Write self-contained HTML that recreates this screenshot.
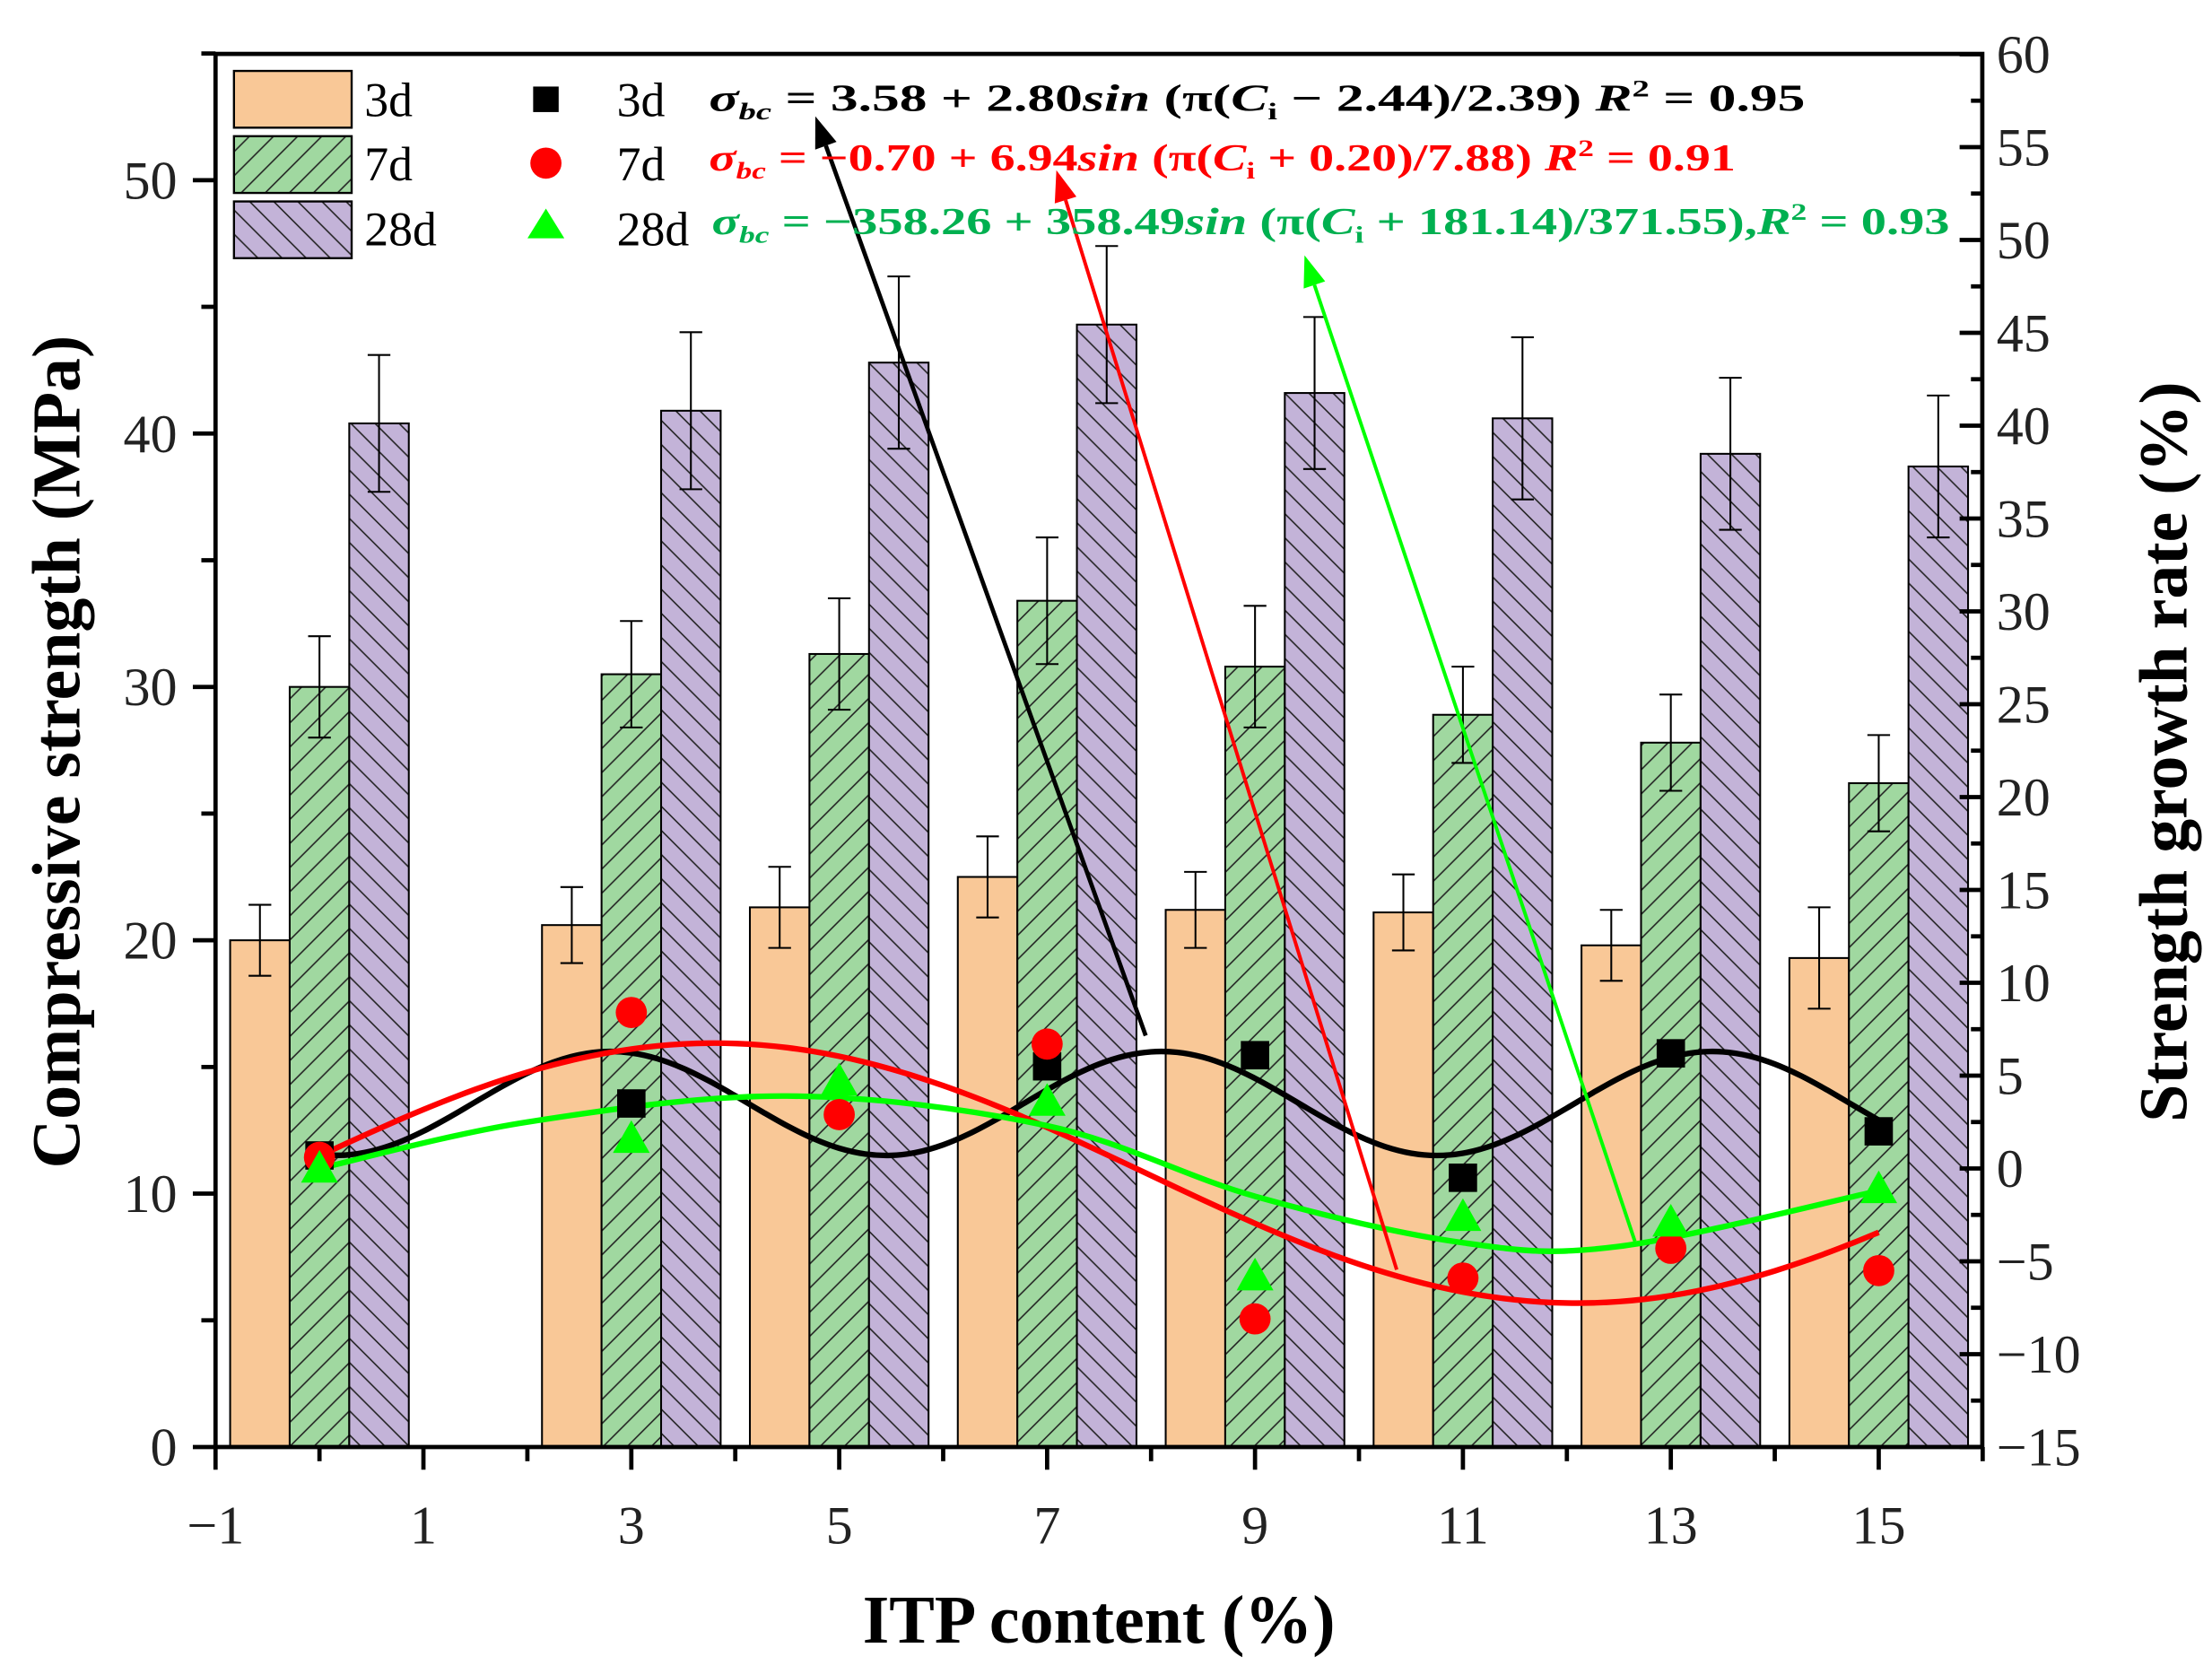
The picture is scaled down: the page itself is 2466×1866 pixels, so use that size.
<!DOCTYPE html>
<html><head><meta charset="utf-8">
<style>
html,body{margin:0;padding:0;background:#fff;}
svg{display:block;}
text{font-family:"Liberation Serif",serif;}
</style></head>
<body>
<svg id="s" width="2466" height="1866" viewBox="0 0 1560 1180" preserveAspectRatio="none" xmlns="http://www.w3.org/2000/svg">
<defs>
<pattern id="hg" patternUnits="userSpaceOnUse" width="17" height="17">
<rect width="17" height="17" fill="#a0d8a0"/>
<path d="M-2,19 L19,-2 M-4,4 L4,-4 M13,21 L21,13" stroke="#222" stroke-width="1"/>
</pattern>
<pattern id="hp" patternUnits="userSpaceOnUse" width="17" height="17">
<rect width="17" height="17" fill="#c3b3d8"/>
<path d="M-2,-2 L19,19 M-4,13 L4,21 M13,-4 L21,4" stroke="#222" stroke-width="1"/>
</pattern>
</defs>
<g id="g"></g>
</svg>
<script>
var g=document.getElementById('g');var h='';
function X(x){return 152+(x+1)*73.31;}
function YL(v){return 1020-v*17.86;}
function YR(v){return 1020-(v+15)*13.09;}
var xs=[0,3,5,7,9,11,13,15];
var d3=[20,20.6,21.3,22.5,21.2,21.1,19.8,19.3],e3=[1.4,1.5,1.6,1.6,1.5,1.5,1.4,2.0];
var d7=[30,30.5,31.3,33.4,30.8,28.9,27.8,26.2],e7=[2.0,2.1,2.2,2.5,2.4,1.9,1.9,1.9];
var d28=[40.4,40.9,42.8,44.3,41.6,40.6,39.2,38.7],e28=[2.7,3.1,3.4,3.1,3.0,3.2,3.0,2.8];
var bw=42;
xs.forEach(function(x,i){var c=X(x);
 var sets=[[d3,e3,'#f9c897',c-63],[d7,e7,'url(#hg)',c-21],[d28,e28,'url(#hp)',c+21]];
 sets.forEach(function(s){var v=s[0][i],e=s[1][i],l=s[3],y=YL(v);
  h+='<rect x="'+l+'" y="'+y+'" width="'+bw+'" height="'+(1020-y)+'" fill="'+s[2]+'" stroke="#000" stroke-width="1.3"/>';
  var m=l+bw/2;
  h+='<path d="M'+m+','+YL(v+e)+'V'+YL(v-e)+'M'+(m-8)+','+YL(v+e)+'h16M'+(m-8)+','+YL(v-e)+'h16" stroke="#000" stroke-width="1.3" fill="none"/>';
 });
});
function spline(pts,col){var p=pts.map(function(q){return [X(q[0]),YR(q[1])];});
 var s='M'+p[0][0]+','+p[0][1];
 for(var i=0;i<p.length-1;i++){var p0=p[i-1]||p[i],p1=p[i],p2=p[i+1],p3=p[i+2]||p2;
  s+='C'+(p1[0]+(p2[0]-p0[0])/6)+','+(p1[1]+(p2[1]-p0[1])/6)+' '+(p2[0]-(p3[0]-p1[0])/6)+','+(p2[1]-(p3[1]-p1[1])/6)+' '+p2[0]+','+p2[1];}
 h+='<path d="'+s+'" stroke="'+col+'" stroke-width="4" fill="none"/>';}
function sinpts(f){var a=[];for(var x=0;x<=15.001;x+=0.25)a.push([x,f(x)]);return a;}
spline(sinpts(function(x){return 3.5+2.8*Math.sin(2*Math.PI*(x-1.475)/5.3);}),'#000');
spline(sinpts(function(x){return -0.25+7*Math.cos(2*Math.PI*(x-3.8)/16.6);}),'#f00');
spline([[0,0],[2,2.5],[4.5,3.9],[7,2.3],[9,-1.5],[11,-4.0],[12.5,-4.2],[15,-1.2]],'#0f0');
var sq=[0.7,3.5,null,5.5,6.1,-0.5,6.2,2],rc=[0.6,8.4,2.9,6.7,-8.1,-5.9,-4.3,-5.5],tr=[0,1.6,4.7,3.6,-5.8,-2.6,-2.9,-1.1];
xs.forEach(function(x,i){var c=X(x);
 if(sq[i]!==null)h+='<rect x="'+(c-10)+'" y="'+(YR(sq[i])-10)+'" width="20" height="20" fill="#000"/>';
 h+='<circle cx="'+c+'" cy="'+YR(rc[i])+'" r="11" fill="#f00"/>';
 var ty=YR(tr[i]);h+='<path d="M'+c+','+(ty-13)+'L'+(c+13)+','+(ty+10)+'L'+(c-13)+','+(ty+10)+'Z" fill="#0f0"/>';
});
function arrow(x1,y1,x2,y2,col,w){var a=Math.atan2(y2-y1,x2-x1),L=22,W=8;
 var bx=x2-L*Math.cos(a),by=y2-L*Math.sin(a);
 h+='<line x1="'+x1+'" y1="'+y1+'" x2="'+bx+'" y2="'+by+'" stroke="'+col+'" stroke-width="'+w+'"/>';
 h+='<path d="M'+x2+','+y2+'L'+(bx+W*Math.sin(a))+','+(by-W*Math.cos(a))+'L'+(bx-W*Math.sin(a))+','+(by+W*Math.cos(a))+'Z" fill="'+col+'"/>';}
arrow(808,730,575,82,'#000',3);arrow(985,895,745,120,'#f00',2.5);arrow(1153,875,920,180,'#0f0',2.5);
// axes
h+='<rect x="152" y="38" width="1246" height="982" fill="none" stroke="#000" stroke-width="3"/>';
for(var v=0;v<=55;v+=5){var y=YL(v);h+='<line x1="'+(v%10?142:136)+'" y1="'+y+'" x2="152" y2="'+y+'" stroke="#000" stroke-width="3"/>';
 if(v%10==0)h+='<text x="125" y="'+(y+13)+'" font-size="38" text-anchor="end" fill="#222">'+v+'</text>';}
for(var x=-1;x<=16;x++){var c=X(x);h+='<line x1="'+c+'" y1="1020" x2="'+c+'" y2="'+((x%2)?1036:1030)+'" stroke="#000" stroke-width="3"/>';
 if(x%2&&x<16)h+='<text x="'+c+'" y="1088" font-size="38" text-anchor="middle" fill="#222">'+(x<0?'\u22121':x)+'</text>';}
for(var v=-15;v<=60;v+=2.5){var y=YR(v);h+='<line x1="'+(v%5?1390:1382)+'" y1="'+y+'" x2="1398" y2="'+y+'" stroke="#000" stroke-width="3"/>';
 if(v%5==0)h+='<text x="1408" y="'+(y+13)+'" font-size="38" fill="#222">'+(v<0?'\u2212'+(-v):v)+'</text>';}
h+='<text x="775" y="1158" font-size="48" font-weight="bold" text-anchor="middle">ITP content (%)</text>';
h+='<text transform="translate(56,530) rotate(-90)" font-size="48" font-weight="bold" text-anchor="middle">Compressive strength (MPa)</text>';
h+='<text transform="translate(1542,530) rotate(-90)" font-size="48" font-weight="bold" text-anchor="middle">Strength growth rate (%)</text>';
// legend
h+='<rect x="165" y="50" width="83" height="40" fill="#f9c897" stroke="#000" stroke-width="1.5"/>';
h+='<rect x="165" y="96" width="83" height="40" fill="url(#hg)" stroke="#000" stroke-width="1.5"/>';
h+='<rect x="165" y="142" width="83" height="40" fill="url(#hp)" stroke="#000" stroke-width="1.5"/>';
[['3d',82],['7d',127],['28d',173]].forEach(function(t){h+='<text x="257" y="'+t[1]+'" font-size="34">'+t[0]+'</text>';h+='<text x="435" y="'+t[1]+'" font-size="34">'+t[0]+'</text>';});
h+='<rect x="376" y="61" width="18" height="18" fill="#000"/><circle cx="385" cy="115" r="11" fill="#f00"/><path d="M385,147L398,168L372,168Z" fill="#0f0"/>';
var ef='font-family="Liberation Serif,serif" font-size="27" font-weight="bold" lengthAdjust="spacingAndGlyphs"';
h+='<text x="500" y="78" '+ef+' textLength="773" fill="#000"><tspan font-style="italic">σ<tspan font-size="17" dy="6">bc</tspan></tspan><tspan dy="-6"> = 3.58 + 2.80</tspan><tspan font-style="italic">sin</tspan> (π(<tspan font-style="italic">C</tspan><tspan font-size="17" dy="6">i</tspan><tspan dy="-6"> − 2.44)/2.39) </tspan><tspan font-style="italic">R</tspan><tspan font-size="17" dy="-10">2</tspan><tspan dy="10"> = 0.95</tspan></text>';
h+='<text x="500" y="120" '+ef+' textLength="724" fill="#f00"><tspan font-style="italic">σ<tspan font-size="17" dy="6">bc</tspan></tspan><tspan dy="-6"> = −0.70 + 6.94</tspan><tspan font-style="italic">sin</tspan> (π(<tspan font-style="italic">C</tspan><tspan font-size="17" dy="6">i</tspan><tspan dy="-6"> + 0.20)/7.88) </tspan><tspan font-style="italic">R</tspan><tspan font-size="17" dy="-10">2</tspan><tspan dy="10"> = 0.91</tspan></text>';
h+='<text x="502" y="165" '+ef+' fill="#00b050" textLength="873"><tspan font-style="italic">σ<tspan font-size="17" dy="6">bc</tspan></tspan><tspan dy="-6"> = −358.26 + 358.49</tspan><tspan font-style="italic">sin</tspan> (π(<tspan font-style="italic">C</tspan><tspan font-size="17" dy="6">i</tspan><tspan dy="-6"> + 181.14)/371.55),</tspan><tspan font-style="italic">R</tspan><tspan font-size="17" dy="-10">2</tspan><tspan dy="10"> = 0.93</tspan></text>';
g.innerHTML=h;
</script>
</body></html>
